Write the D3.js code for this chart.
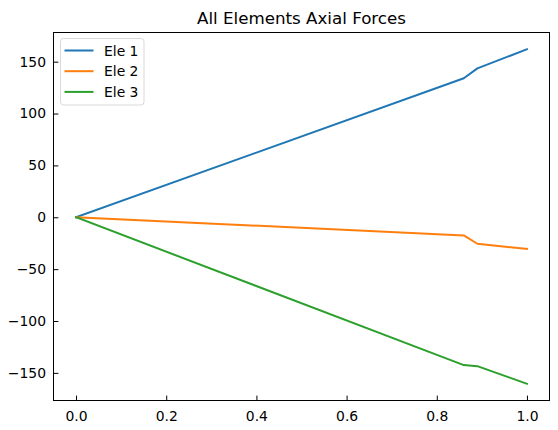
<!DOCTYPE html>
<html>
<head>
<meta charset="utf-8">
<script src="https://cdn.jsdelivr.net/npm/d3@7"></script>
<style>
  body { margin: 0; background: #fff; }
  svg { font-family: "DejaVu Sans", sans-serif; }
</style>
</head>
<body>
<div class="main"></div>
<script>
// data
var xVals = [0, 0.86, 0.89, 1.0];
var ele1 = [0, 134, 143.5, 162];
var ele2 = [0, -17.5, -25.5, -30.5];
var ele3 = [0, -142.5, -143.5, -160.5];
var names = ["Ele 1", "Ele 2", "Ele 3"];
var colors = ["#1f77b4", "#ff7f0e", "#2ca02c"];
var xTicks = [0.0, 0.2, 0.4, 0.6, 0.8, 1.0];
var yTicks = [-150, -100, -50, 0, 50, 100, 150];

var width = 558, height = 430;
// plot box (note: "top" is taken by window.top, so prefix these)
var boxL = 53.5, boxR = 549.5, boxT = 32.5, boxB = 400.5;

var svg = d3.select("div.main").append("svg")
  .attr("width", width)
  .attr("height", height);

var series = [ele1, ele2, ele3];

var x = d3.scaleLinear().domain([-0.05, 1.05]).range([boxL, boxR]);

var yMin = d3.min(series, function(s) { return d3.min(s); });
var yMax = d3.max(series, function(s) { return d3.max(s); });
var pad = (yMax - yMin) * 0.05;
var y = d3.scaleLinear().domain([yMin - pad, yMax + pad]).range([boxB, boxT]);

// lines
var line = d3.line()
  .x(function(d, i) { return x(xVals[i]); })
  .y(function(d) { return y(d); });

svg.append("g").selectAll("path")
  .data(series)
  .enter().append("path")
  .attr("d", line)
  .attr("fill", "none")
  .attr("stroke", function(d, i) { return colors[i]; })
  .attr("stroke-width", 2)
  .attr("stroke-linejoin", "round")
  .attr("stroke-linecap", "square");

// axes, ticks pointing inward
var xAxis = svg.append("g")
  .attr("transform", "translate(0," + boxB + ")")
  .call(d3.axisBottom(x).tickValues(xTicks).tickFormat(d3.format(".1f")).tickSizeInner(-4.9).tickSizeOuter(0).tickPadding(11));
var yAxis = svg.append("g")
  .attr("transform", "translate(" + boxL + ",0)")
  .call(d3.axisLeft(y).tickValues(yTicks).tickFormat(function(d) { return d < 0 ? "\u2212" + Math.abs(d) : d; }).tickSizeInner(-4.9).tickSizeOuter(0).tickPadding(7.5));

[xAxis, yAxis].forEach(function(a) {
  a.select(".domain").remove();
  a.selectAll("line").attr("stroke", "#000").attr("stroke-width", 1);
  a.selectAll("text").attr("font-size", "13.9px").attr("fill", "#000")
    .attr("font-family", "DejaVu Sans, sans-serif");
});

// frame
svg.append("rect")
  .attr("x", boxL).attr("y", boxT)
  .attr("width", boxR - boxL).attr("height", boxB - boxT)
  .attr("fill", "none").attr("stroke", "#000").attr("stroke-width", 1);

// title
svg.append("text")
  .attr("x", (boxL + boxR) / 2)
  .attr("y", 24)
  .attr("text-anchor", "middle")
  .attr("font-size", "16.7px")
  .text("All Elements Axial Forces");

// legend
var lg = svg.append("g").attr("transform", "translate(60.5,38.5)");
lg.append("rect")
  .attr("width", 83.5).attr("height", 66.5).attr("rx", 3)
  .attr("fill", "#fff").attr("fill-opacity", 0.8)
  .attr("stroke", "#d9d9d9").attr("stroke-width", 1);
var items = lg.selectAll("g.item")
  .data(names)
  .enter().append("g")
  .attr("class", "item")
  .attr("transform", function(d, i) { return "translate(0," + (12 + i * 20.7) + ")"; });
items.append("line")
  .attr("x1", 4).attr("x2", 33)
  .attr("stroke", function(d, i) { return colors[i]; })
  .attr("stroke-width", 2);
items.append("text")
  .attr("x", 43.5).attr("y", 5)
  .attr("font-size", "13.9px")
  .text(function(d) { return d; });
</script>
</body>
</html>
